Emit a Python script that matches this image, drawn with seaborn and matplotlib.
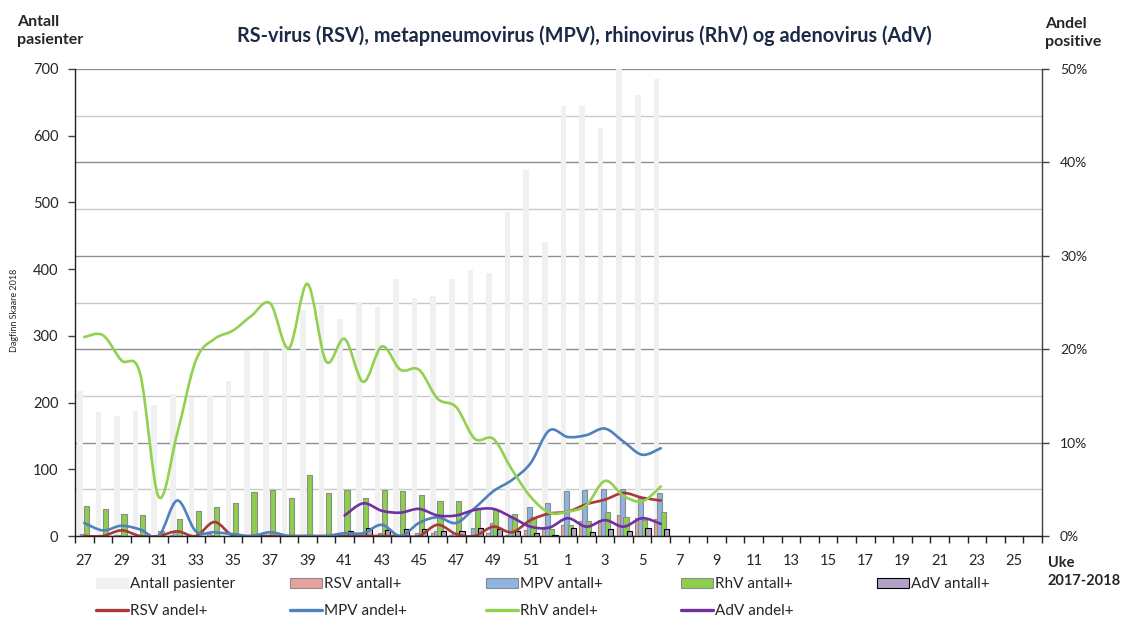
import numpy as np
import pandas as pd
import seaborn as sns
import matplotlib.pyplot as plt
from matplotlib.path import Path
from matplotlib.patches import PathPatch, Patch
from matplotlib.lines import Line2D
from matplotlib.ticker import FixedLocator, MultipleLocator, FuncFormatter

sns.set_theme(style='white')
plt.rcParams['font.family'] = ['Lato', 'DejaVu Sans']

# data (weeks 27-52 of 2017, 1-6 of 2018)
weeks = [27, 28, 29, 30, 31, 32, 33, 34, 35, 36, 37, 38, 39, 40, 41, 42, 43, 44,
         45, 46, 47, 48, 49, 50, 51, 52, 1, 2, 3, 4, 5, 6]
season_weeks = list(range(27, 53)) + list(range(1, 27))

antall_pasienter = [217, 186, 180, 188, 196, 213, 209, 210, 233, 277, 277, 288, 339, 346,
                    325, 351, 344, 385, 357, 360, 385, 398, 394, 486, 549, 441,
                    644, 644, 612, 700, 661, 685]
rsv_antall = [0, 0, 1, 0, 0, 1, 0, 3, 0, 0, 0, 0, 0, 0, 0, 0, 0, 0, 0, 4, 1, 0, 4, 2, 9, 11,
              17, 22, 24, 32, 27, 26]
mpv_antall = [3, 1, 2, 1, 0, 8, 1, 1, 0, 0, 1, 0, 0, 0, 1, 1, 4, 0, 5, 7, 5, 12, 19, 29, 43, 50,
              68, 69, 70, 71, 57, 64]
rhv_antall = [45, 40, 33, 32, 8, 25, 38, 43, 50, 66, 69, 57, 92, 64, 69, 57, 69, 68, 62, 53, 53,
              42, 41, 33, 28, 11, 16, 23, 36, 28, 24, 36]
adv_antall = [0, 0, 0, 0, 0, 0, 0, 0, 0, 0, 0, 0, 0, 0, 7, 12, 9, 10, 11, 7, 7, 12, 11, 8, 4, 2,
              12, 6, 10, 8, 12, 10]

# andel positive, percent
rsv_andel = [0, 0, 0.6, 0, 0, 0.5, 0, 1.5, 0, 0, 0, 0, 0, 0, 0, 0, 0, 0, 0, 1.2, 0.2, 0, 1.0,
             0.4, 1.7, 2.4, 2.6, 3.4, 3.9, 4.6, 4.1, 3.8]
mpv_andel = [1.4, 0.6, 1.1, 0.7, 0, 3.8, 0.5, 0.4, 0.2, 0, 0.4, 0, 0, 0, 0.3, 0.3, 1.2, 0, 1.4,
             2.0, 1.4, 3.0, 4.8, 6.0, 7.8, 11.3, 10.6, 10.8, 11.5, 10.1, 8.7, 9.4]
rhv_andel = [21.3, 21.5, 18.8, 17.4, 4.2, 11.0, 18.8, 21.1, 22.0, 23.6, 24.9, 20.1, 27.0, 18.7,
             21.1, 16.5, 20.3, 17.8, 17.8, 14.7, 13.8, 10.4, 10.4, 7.1, 4.2, 2.5,
             2.6, 3.3, 5.9, 4.3, 3.7, 5.3]
adv_andel = [np.nan] * 14 + [2.2, 3.5, 2.7, 2.5, 2.9, 2.2, 2.2, 2.8, 2.9, 2.0, 1.0, 0.9,
                             1.9, 1.0, 1.7, 1.0, 1.9, 1.3]

df = pd.DataFrame({
    'uke': weeks,
    'Antall pasienter': antall_pasienter,
    'RSV antall+': rsv_antall,
    'MPV antall+': mpv_antall,
    'RhV antall+': rhv_antall,
    'AdV antall+': adv_antall,
    'RSV andel+': rsv_andel,
    'MPV andel+': mpv_andel,
    'RhV andel+': rhv_andel,
    'AdV andel+': adv_andel,
})
df['pos'] = np.arange(len(df))

# (column, offset in category, width, face, edge)
bar_specs = [
    ('Antall pasienter', -0.24, 0.3, '#F0F0F0', 'none'),
    ('RSV antall+', -0.27, 0.22, '#E6A09E', '#8C8C8C'),
    ('MPV antall+', -0.08, 0.26, '#8DB4E2', '#8C8C8C'),
    ('RhV antall+', 0.13, 0.28, '#8CCF4D', '#8C8C8C'),
    ('AdV antall+', 0.31, 0.28, '#B3A2C7', '#000000'),
]
line_specs = [
    ('RSV andel+', '#A63A38'),
    ('MPV andel+', '#4F81BD'),
    ('RhV andel+', '#92D050'),
    ('AdV andel+', '#7030A0'),
]


def smooth_path(x, y):
    # Excel style smoothed line (Catmull-Rom as cubic bezier)
    pts = [(a, b) for a, b in zip(x, y) if not np.isnan(b)]
    verts = [pts[0]]
    codes = [Path.MOVETO]
    for k in range(len(pts) - 1):
        p0 = pts[k - 1] if k > 0 else pts[k]
        p1, p2 = pts[k], pts[k + 1]
        p3 = pts[k + 2] if k + 2 < len(pts) else pts[k + 1]
        c1 = (p1[0] + (p2[0] - p0[0]) / 6, p1[1] + (p2[1] - p0[1]) / 6)
        c2 = (p2[0] - (p3[0] - p1[0]) / 6, p2[1] - (p3[1] - p1[1]) / 6)
        verts += [c1, c2, p2]
        codes += [Path.CURVE4] * 3
    return Path(verts, codes)


fig = plt.figure(figsize=(11.22, 6.19), dpi=100)
ax = fig.add_axes([75 / 1122, 1 - 536 / 619, 967 / 1122, 467 / 619])
ax2 = ax.twinx()
ax.set_zorder(2)
ax.patch.set_visible(False)
ax2.set_zorder(1)

# bars
for col, off, w, fc, ec in bar_specs:
    sns.barplot(x=df['pos'] + off, y=df[col], native_scale=True, width=w, color=fc,
                edgecolor=ec, linewidth=0.8, saturation=1, errorbar=None, ax=ax)

ax2.set_ylim(0, 50)
ax.set_ylim(0, 700)
ax.set_xlim(-0.5, 51.5)

# smoothed percentage lines, drawn above the bars in the right-axis scale
for col, c in line_specs:
    ax.add_patch(PathPatch(smooth_path(df['pos'], df[col].to_numpy(dtype=float)),
                           fill=False, edgecolor=c, lw=1.9, transform=ax2.transData,
                           capstyle='round', joinstyle='round'))
ax.set_ylim(0, 700)
ax.set_xlim(-0.5, 51.5)

# grid from right axis
ax2.yaxis.set_major_locator(MultipleLocator(10))
ax2.yaxis.set_minor_locator(MultipleLocator(5))
ax2.yaxis.set_major_formatter(FuncFormatter(lambda v, p: f'{v:.0f}%'))
ax2.grid(which='major', axis='y', color='#8F8F8F', lw=1)
ax2.grid(which='minor', axis='y', color='#C8C8C8', lw=1)
ax2.grid(axis='x', visible=False)
ax2.tick_params(axis='y', which='major', direction='out', length=5, width=1, color='#404040',
                labelsize=10, pad=8, right=True)
ax2.tick_params(axis='y', which='minor', length=0)

ax.yaxis.set_major_locator(MultipleLocator(100))
ax.tick_params(axis='y', direction='out', length=5, width=1, color='#404040', labelsize=10.5,
               pad=7, left=True)
ax.xaxis.set_major_locator(FixedLocator(range(0, 52, 2)))
ax.set_xticklabels([str(w) for w in season_weeks[::2]])
ax.xaxis.set_minor_locator(FixedLocator(np.arange(-0.5, 52, 1)))
ax.tick_params(axis='x', which='major', length=0, labelsize=10.5, pad=13)
ax.tick_params(axis='x', which='minor', direction='out', length=5, width=1, color='#202020',
               bottom=True)
ax.set_xlabel('')
ax.set_ylabel('')

for s in ['top', 'right']:
    ax.spines[s].set_visible(False)
for s in ['top', 'left', 'bottom']:
    ax2.spines[s].set_visible(False)
for s in ['left', 'bottom']:
    ax.spines[s].set_color('#202020')
    ax.spines[s].set_linewidth(1)
ax2.spines['right'].set_color('#404040')
ax2.spines['right'].set_linewidth(1)

# texts
fig.text(584 / 1122, 1 - 36 / 619,
         'RS-virus (RSV), metapneumovirus (MPV), rhinovirus (RhV) og adenovirus (AdV)',
         ha='center', va='center', fontsize=14.3, fontweight='bold', color='#1C2A48')
fig.text(17 / 1122, 1 - 31 / 619, 'Antall\npasienter', ha='left', va='center',
         fontsize=11.5, fontweight='bold', linespacing=1.35)
fig.text(1045 / 1122, 1 - 33 / 619, 'Andel\npositive', ha='left', va='center',
         fontsize=11.5, fontweight='bold', linespacing=1.35)
fig.text(1048 / 1122, 1 - 572 / 619, 'Uke\n2017-2018', ha='left', va='center',
         fontsize=10.5, fontweight='bold', linespacing=1.3)
fig.text(15 / 1122, 1 - 310 / 619, 'Dagfinn Skaare 2018', rotation=90, ha='center',
         va='center', fontsize=6.5)

# legend, one block per column
bar_handles = [Patch(facecolor=fc, edgecolor=(ec if ec != 'none' else fc), lw=0.8)
               for _, _, _, fc, ec in bar_specs]
line_handles = [Line2D([], [], color=c, lw=2.4) for _, c in line_specs]
col_x = [96, 290, 486, 681, 877]
for k, x in enumerate(col_x):
    hs = [bar_handles[k]]
    ls = [bar_specs[k][0]]
    if k < len(line_handles):
        hs.append(line_handles[k])
        ls.append(line_specs[k][0])
    fig.legend(hs, ls, loc='upper left', bbox_to_anchor=(x / 1122, 1 - 577 / 619),
               frameon=False, fontsize=11, borderpad=0, borderaxespad=0,
               handlelength=2.1, handleheight=0.65, handletextpad=0.1, labelspacing=0.85)

plt.savefig('out.png', dpi=100)
